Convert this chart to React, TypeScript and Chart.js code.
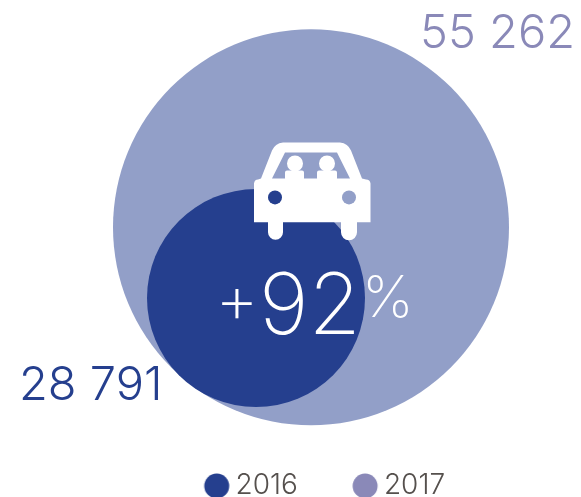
import React, { useEffect, useRef } from "react";
import { Chart, registerables } from "chart.js";

Chart.register(...registerables);

const years = ["2016", "2017"];
const totals = [28791, 55262];
const totalLabels = ["28 791", "55 262"];
const centresX = [256, 311];
const centresY = [299, 228];
const radii = [109, 198];
const circleColours = ["#253f8e", "#929fc8"];
const legendColours = ["#253f8e", "#8a89b8"];
const changeNumber = "92";
const FONT = "Inter";
const SCALE_TOP = 419;
const SCALE_LEFT = 68;

const legendDot = (colour: string) => {
  const c = document.createElement("canvas");
  c.width = 40;
  c.height = 40;
  const g = c.getContext("2d")!;
  g.fillStyle = colour;
  g.beginPath();
  g.arc(24, 20, 12.5, 0, Math.PI * 2);
  g.fill();
  return c;
};

const overlay = {
  id: "overlay",
  afterDatasetsDraw(chart: any) {
    const { ctx, scales } = chart;
    const px = (v: number) => scales.x.getPixelForValue(v);
    const py = (v: number) => scales.y.getPixelForValue(v);
    ctx.save();
    ctx.textBaseline = "alphabetic";
    const text = (t: string, x: number, y: number, size: number, weight: number, colour: string, align: CanvasTextAlign) => {
      ctx.font = `${weight} ${size}px ${FONT}`;
      ctx.fillStyle = colour;
      ctx.textAlign = align;
      ctx.fillText(t, px(x), py(y));
    };
    text(totalLabels[1], 575, 48, 47, 300, legendColours[1], "right");
    text(totalLabels[0], 19, 401, 47, 300, legendColours[0], "left");
    text("+", 215, 324, 68, 200, "#ffffff", "left");
    text(changeNumber, 310, 335, 85, 200, "#ffffff", "center");
    text("%", 362, 318, 58, 200, "#ffffff", "left");

    const X = (v: number) => px(v);
    const Y = (v: number) => py(v);
    ctx.fillStyle = "#ffffff";
    ctx.beginPath();
    ctx.moveTo(X(283), Y(143));
    ctx.lineTo(X(340), Y(143));
    ctx.quadraticCurveTo(X(348), Y(144), X(351), Y(151));
    ctx.lineTo(X(362), Y(179));
    ctx.lineTo(X(366), Y(180));
    ctx.quadraticCurveTo(X(370), Y(180), X(370.5), Y(184));
    ctx.lineTo(X(370.5), Y(223));
    ctx.lineTo(X(357), Y(223));
    ctx.lineTo(X(357), Y(233));
    ctx.arc(X(349), Y(233), 8, 0, Math.PI);
    ctx.lineTo(X(341), Y(223));
    ctx.lineTo(X(283), Y(223));
    ctx.lineTo(X(283), Y(233));
    ctx.arc(X(275.5), Y(233), 7.5, 0, Math.PI);
    ctx.lineTo(X(268), Y(223));
    ctx.lineTo(X(254), Y(223));
    ctx.lineTo(X(254), Y(184));
    ctx.quadraticCurveTo(X(254.5), Y(180), X(258), Y(180));
    ctx.lineTo(X(261), Y(179));
    ctx.lineTo(X(272), Y(151));
    ctx.quadraticCurveTo(X(275), Y(144), X(283), Y(143));
    ctx.closePath();
    ctx.moveTo(X(285), Y(153));
    ctx.lineTo(X(337), Y(153));
    ctx.lineTo(X(350), Y(179));
    ctx.lineTo(X(272), Y(179));
    ctx.closePath();
    ctx.fill("evenodd");
    ctx.beginPath();
    ctx.arc(X(295), Y(164), 8, 0, Math.PI * 2);
    ctx.arc(X(327), Y(164), 8, 0, Math.PI * 2);
    ctx.fill();
    ctx.beginPath();
    ctx.roundRect(X(285), Y(171), 19, 10, 2);
    ctx.roundRect(X(317), Y(171), 20, 10, 2);
    ctx.fill();
    ctx.fillStyle = circleColours[0];
    ctx.beginPath();
    ctx.arc(X(275), Y(198), 7, 0, Math.PI * 2);
    ctx.fill();
    ctx.fillStyle = circleColours[1];
    ctx.beginPath();
    ctx.arc(X(349), Y(198), 7, 0, Math.PI * 2);
    ctx.fill();
    ctx.restore();
  },
};

export default function App() {
  const ref = useRef<HTMLCanvasElement>(null);
  useEffect(() => {
    const dots = legendColours.map(legendDot);
    const chart = new Chart(ref.current!, {
      type: "bubble",
      data: {
        datasets: years.map((y, i) => ({
          label: y,
          data: [{ x: centresX[i], y: centresY[i], r: radii[i], value: totals[i] }],
          backgroundColor: circleColours[i],
          borderWidth: 0,
          hoverBorderWidth: 0,
          clip: false,
        })),
      } as any,
      options: {
        responsive: false,
        animation: false,
        layout: { autoPadding: false, padding: { left: SCALE_LEFT, bottom: -13 } },
        scales: {
          x: { display: false, min: SCALE_LEFT, max: 581 },
          y: { display: false, reverse: true, min: 0, max: SCALE_TOP },
        },
        plugins: {
          tooltip: { enabled: false },
          legend: {
            position: "bottom",
            labels: {
              usePointStyle: true,
              boxWidth: 17.7,
              boxHeight: 17.7,
              padding: 54.3,
              color: "#55504d",
              font: { family: FONT, size: 28, weight: 300 },
              generateLabels: () =>
                years.map((y, i) => ({
                  text: y,
                  fillStyle: legendColours[i],
                  strokeStyle: legendColours[i],
                  lineWidth: 0,
                  pointStyle: dots[i],
                  fontColor: "#55504d",
                  datasetIndex: i,
                })),
            },
          },
        },
      } as any,
      plugins: [overlay],
    });
    return () => chart.destroy();
  }, []);
  return (
    <canvas
      ref={ref}
      width={581}
      height={497}
      style={{ position: "absolute", left: 0, top: 0, display: "block", background: "#ffffff" }}
    />
  );
}
